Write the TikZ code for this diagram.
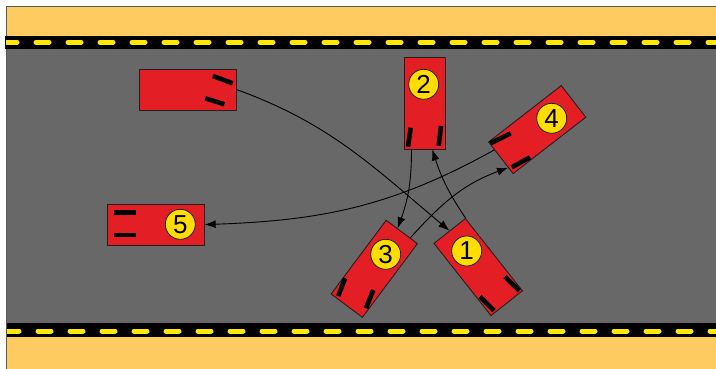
\documentclass[tikz,border=0pt]{standalone}
\usepackage{fontspec}
\setmainfont{Liberation Sans}
\usetikzlibrary{calc,arrows.meta}

\definecolor{verge}{RGB}{253,203,96}
\definecolor{asphalt}{RGB}{103,104,103}
\definecolor{carred}{RGB}{227,30,36}
\definecolor{badge}{RGB}{255,221,0}
\definecolor{stripe}{RGB}{255,233,0}
\definecolor{outline}{RGB}{35,31,32}

\tikzset{
  car/.style={draw=outline, line width=0.9pt, fill=carred, inner sep=0pt,
    minimum width=92pt, minimum height=40pt},
  longcar/.style={car, minimum width=97pt, minimum height=41pt},
  badgecircle/.style={circle, draw=outline, line width=0.8pt, fill=badge,
    minimum size=30pt, inner sep=0pt, font=\fontsize{26}{26}\selectfont},
  tyre/.style={line width=4.6pt, line cap=butt, black},
  conn/.style={line width=0.9pt, black, -{Latex[length=11pt,width=8pt]}},
  dashmark/.style={line width=5pt, line cap=round, stripe}
}

\begin{document}
\begin{tikzpicture}[x=1pt,y=1pt]
  \useasboundingbox (0,0) rectangle (716,368);
  \fill[white] (0,0) rectangle (716,368);

  % verges and road surface
  \filldraw[fill=verge, draw=black!65, line width=0.8pt] (6,-2) rectangle (718,362);
  \fill[asphalt] (6.5,45) rectangle (716,319);

  % kerb bands with centre dashes
  \fill[black] (5,319) rectangle (716,332);
  \fill[black] (7,31) rectangle (716,45);
  \begin{scope}
    \clip (6,300) rectangle (716,340);
    \foreach \k in {0,...,22} {
      \draw[dashmark] ({4+32*\k},325.7) -- ({17+32*\k},325.7);
    }
  \end{scope}
  \begin{scope}
    \clip (7,20) rectangle (716,50);
    \foreach \k in {0,...,22} {
      \draw[dashmark] ({6+32*\k},37) -- ({19+32*\k},37);
    }
  \end{scope}

  % starting car
  \node[longcar] (c0) at (187.5,278.5) {};
  \draw[tyre] (213,292) -- (232.7,284.7);
  \draw[tyre] (205.3,269.7) -- (224.3,263.7);

  % car 1
  \node[car, rotate=128.3] (c1) at (478.2,100.9) {};
  \draw[tyre] (505,91.3) -- (519.3,77.3);
  \draw[tyre] (480,71.3) -- (494,57.3);
  \node[badgecircle] (n1) at (466.7,117) {1};

  % car 2
  \node[car, rotate=90, minimum height=41pt] (c2) at (424.5,265) {};
  \draw[tyre] (410.7,240.3) -- (408,221.3);
  \draw[tyre] (441,242) -- (438.7,222.3);
  \node[badgecircle] (n2) at (423.7,283.7) {2};

  % car 3
  \node[car, rotate=53.25, minimum height=39pt] (c3) at (374.3,99.2) {};
  \draw[tyre] (345,89.7) -- (338.3,72);
  \draw[tyre] (373.3,78) -- (366,59.7);
  \node[badgecircle] (n3) at (385.7,113.7) {3};

  % car 4
  \node[car, rotate=37.8] (c4) at (537.2,238.4) {};
  \draw[tyre] (490.5,224.7) -- (510.7,234.7);
  \draw[tyre] (511.7,200.7) -- (530,210.7);
  \node[badgecircle] (n4) at (551.7,249.7) {4};

  % car 5
  \node[longcar] (c5) at (155.7,143.4) {};
  \draw[tyre] (114,155.7) -- (135.7,155.7);
  \draw[tyre] (114,133) -- (135.7,133);
  \node[badgecircle] (n5) at (180.3,143.7) {5};

  % paths between successive positions
  \draw[conn] (c0.east) to[out=-20, in=140] (c1.east);
  \draw[conn] (c1.south east) to[bend left=8]
    ($(c2.west)!0.37!(c2.south west)$);
  \draw[conn] ($(c2.west)!0.62!(c2.north west)$) to[bend left=10]
    ($(c3.north east)!0.36!(c3.south east)$);
  \draw[conn] ($(c3.north east)!0.76!(c3.south east)$) to[out=48, in=-160]
    ($(c4.north west)!0.8!(c4.south west)$);
  \draw[conn] ($(c4.north west)!0.25!(c4.south west)$) to[out=-151, in=2]
    (c5.east);
\end{tikzpicture}
\end{document}
